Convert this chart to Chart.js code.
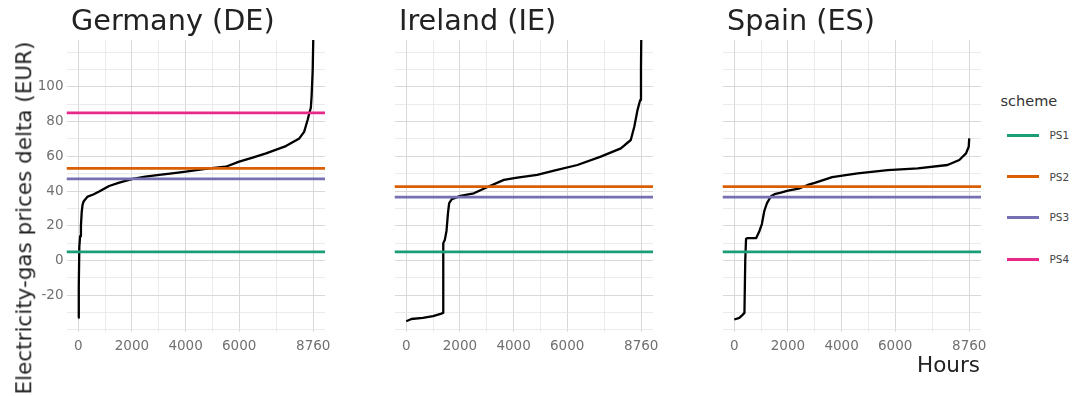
<!DOCTYPE html>
<html>
<head>
<meta charset="utf-8">
<script src="https://cdn.jsdelivr.net/npm/chart.js@4.4.1/dist/chart.umd.min.js"></script>
<style>
  html, body { margin:0; padding:0; background:#fff; }
  body { width:1075px; height:396px; position:relative; overflow:hidden; font-family:"DejaVu Sans", sans-serif; }
  canvas { position:absolute; top:0; }
  .t { position:absolute; white-space:nowrap; line-height:1; color:#222; }
  .sw { position:absolute; height:3px; width:32px; }
</style>
</head>
<body>
<canvas id="c0" width="345" height="396" style="left:0px"></canvas>
<canvas id="c1" width="290" height="396" style="left:380px"></canvas>
<canvas id="c2" width="290" height="396" style="left:710px"></canvas>

<div class="t" style="left:71px; top:5.9px; font-size:28.7px;">Germany (DE)</div>
<div class="t" style="left:399px; top:5.9px; font-size:28.7px;">Ireland (IE)</div>
<div class="t" style="left:727px; top:5.9px; font-size:28.7px;">Spain (ES)</div>
<div class="t" style="left:24px; top:217.5px; font-size:21.5px; transform:translate(-50%,-50%) rotate(-90deg);">Electricity-gas prices delta (EUR)</div>
<div class="t" style="right:95px; top:353.8px; font-size:21.5px;">Hours</div>
<div id="legend"></div>

<script>
// ---- data ----
const panelTitles = ['Germany (DE)', 'Ireland (IE)', 'Spain (ES)'];
const schemes = ['PS1', 'PS2', 'PS3', 'PS4'];

const deHours  = [1, 20, 40, 70, 100, 130, 160, 200, 250, 350, 560, 780, 1150, 1530, 2030, 2500, 3020, 3500, 4010, 4880, 5500, 6000, 6500, 7000, 7740, 8240, 8420, 8550, 8610, 8670, 8700, 8740, 8760];
const deValues = [-33, -15, 8, 14, 20, 28, 32, 34, 35, 36.8, 38, 39.7, 42.9, 44.8, 47, 48.3, 49.3, 50.2, 51.2, 53.1, 54, 56.9, 59.2, 61.7, 65.9, 70.3, 74.1, 80.9, 84.7, 88, 95, 110, 127];

const ieHours  = [1, 190, 620, 1000, 1310, 1370, 1380, 1440, 1500, 1560, 1600, 1700, 2020, 2520, 3010, 3640, 4140, 4880, 5510, 6380, 7250, 8000, 8370, 8500, 8620, 8720, 8750, 8760];
const ieValues = [-35, -33.7, -33.1, -32, -30.6, -30.2, 10, 12, 17, 28, 33, 35.3, 37.2, 38.7, 42.2, 46.4, 47.7, 49.3, 51.7, 55, 59.8, 64.6, 69.4, 77, 86.6, 92.4, 110, 127];

const esHours  = [1, 190, 300, 380, 410, 440, 500, 820, 940, 1030, 1120, 1220, 1370, 1500, 1740, 2000, 2400, 2740, 3000, 3650, 4600, 5720, 6840, 7950, 8390, 8640, 8740, 8760];
const esValues = [-34, -33.1, -31.5, -30.2, 0, 12.5, 12.9, 12.9, 17, 21, 28.5, 33, 37, 38.2, 39.1, 40.2, 41.4, 43.5, 44.7, 48, 50.2, 52.1, 53.1, 55, 57.9, 61.7, 65.5, 70.3];

// scheme levels (PS1..PS4), null = not present
const deLevels = [5, 53, 47, 85];
const ieLevels = [5, 42.5, 36.5, null];
const esLevels = [5, 42.5, 36.5, null];

const xTickLabels = [0, 2000, 4000, 6000, 8760];
const xMinorTicks = [1000, 3000, 5000, 7380];
const yTickLabels = [-20, 0, 20, 40, 60, 80, 100];
const yMinorTicks = [-40, -30, -10, 10, 30, 50, 70, 90, 110, 120];

// ---- styling ----
const schemeColors = ['#1B9E77', '#D95F02', '#7570B3', '#E7298A'];
const X_MIN = -438, X_MAX = 9198, Y_MIN = -41.2, Y_MAX = 127;
const PANEL_W = 258.5, TOP = 40, BOTTOM = 332, XAXIS_H = 30;

const panels = [
  { id: 'c0', hours: deHours, values: deValues, levels: deLevels, yw: 66.5, showY: true },
  { id: 'c1', hours: ieHours, values: ieValues, levels: ieLevels, yw: 14.5, showY: false },
  { id: 'c2', hours: esHours, values: esValues, levels: esLevels, yw: 12.5, showY: false },
];

const tickFont = { family: 'DejaVu Sans', size: 13.5 };
const tickColor = '#707070';

function gridColor(isMajor) { return isMajor ? '#d9d9d9' : '#e6e6e6'; }

panels.forEach(p => {
  const canvas = document.getElementById(p.id);
  const datasets = [];
  p.levels.forEach((lv, i) => {
    if (lv === null) return;
    datasets.push({
      label: schemes[i],
      data: [{ x: X_MIN, y: lv }, { x: X_MAX, y: lv }],
      borderColor: schemeColors[i],
      borderWidth: 2.7,
      pointRadius: 0,
      borderCapStyle: 'butt',
    });
  });
  datasets.push({
    label: 'delta',
    data: p.hours.map((h, i) => ({ x: h, y: p.values[i] })),
    borderColor: '#000',
    borderWidth: 2.3,
    pointRadius: 0,
    tension: 0,
    borderJoinStyle: 'round',
  });

  const padRight = canvas.width - p.yw - PANEL_W;
  new Chart(canvas, {
    type: 'line',
    data: { datasets },
    options: {
      responsive: false,
      animation: false,
      devicePixelRatio: 1,
      events: [],
      layout: { padding: { top: TOP, left: 0, right: padRight, bottom: 396 - BOTTOM - XAXIS_H } },
      plugins: { legend: { display: false }, tooltip: { enabled: false }, title: { display: false } },
      scales: {
        x: {
          type: 'linear',
          min: X_MIN, max: X_MAX,
          border: { display: false },
          afterFit: s => { s.height = XAXIS_H; },
          afterBuildTicks: s => {
            s.ticks = xTickLabels.concat(xMinorTicks).sort((a, b) => a - b).map(v => ({ value: v }));
          },
          grid: {
            drawTicks: false,
            color: c => gridColor(xTickLabels.includes(c.tick && c.tick.value)),
            lineWidth: c => xTickLabels.includes(c.tick && c.tick.value) ? 1 : 0.8,
          },
          ticks: {
            autoSkip: false, maxRotation: 0, minRotation: 0, padding: 6,
            font: tickFont, color: tickColor,
            callback: v => xTickLabels.includes(v) ? String(v) : '',
          },
        },
        y: {
          type: 'linear',
          min: Y_MIN, max: Y_MAX,
          border: { display: false },
          afterFit: s => { s.width = p.yw; },
          afterBuildTicks: s => {
            s.ticks = yTickLabels.concat(yMinorTicks).sort((a, b) => a - b).map(v => ({ value: v }));
          },
          grid: {
            drawTicks: false,
            color: c => gridColor(yTickLabels.includes(c.tick && c.tick.value)),
            lineWidth: c => yTickLabels.includes(c.tick && c.tick.value) ? 1 : 0.8,
          },
          ticks: {
            display: p.showY, autoSkip: false, padding: 3,
            font: tickFont, color: tickColor,
            callback: v => yTickLabels.includes(v) ? String(v) : '',
          },
        },
      },
    },
  });
});

// ---- legend (HTML) ----
const legend = document.getElementById('legend');
const title = document.createElement('div');
title.className = 't';
title.style.cssText = 'left:1000.5px; top:94.4px; font-size:14.5px; color:#333;';
title.textContent = 'scheme';
legend.appendChild(title);
const legendY = [135, 176.7, 217.3, 259.3];
schemes.forEach((s, i) => {
  const sw = document.createElement('div');
  sw.className = 'sw';
  sw.style.cssText = `left:1006.7px; top:${legendY[i] - 1.5}px; background:${schemeColors[i]};`;
  legend.appendChild(sw);
  const lb = document.createElement('div');
  lb.className = 't';
  lb.style.cssText = `left:1049.5px; top:${legendY[i] - 5.1}px; font-size:10.5px; color:#444;`;
  lb.textContent = s;
  legend.appendChild(lb);
});
</script>
</body>
</html>
